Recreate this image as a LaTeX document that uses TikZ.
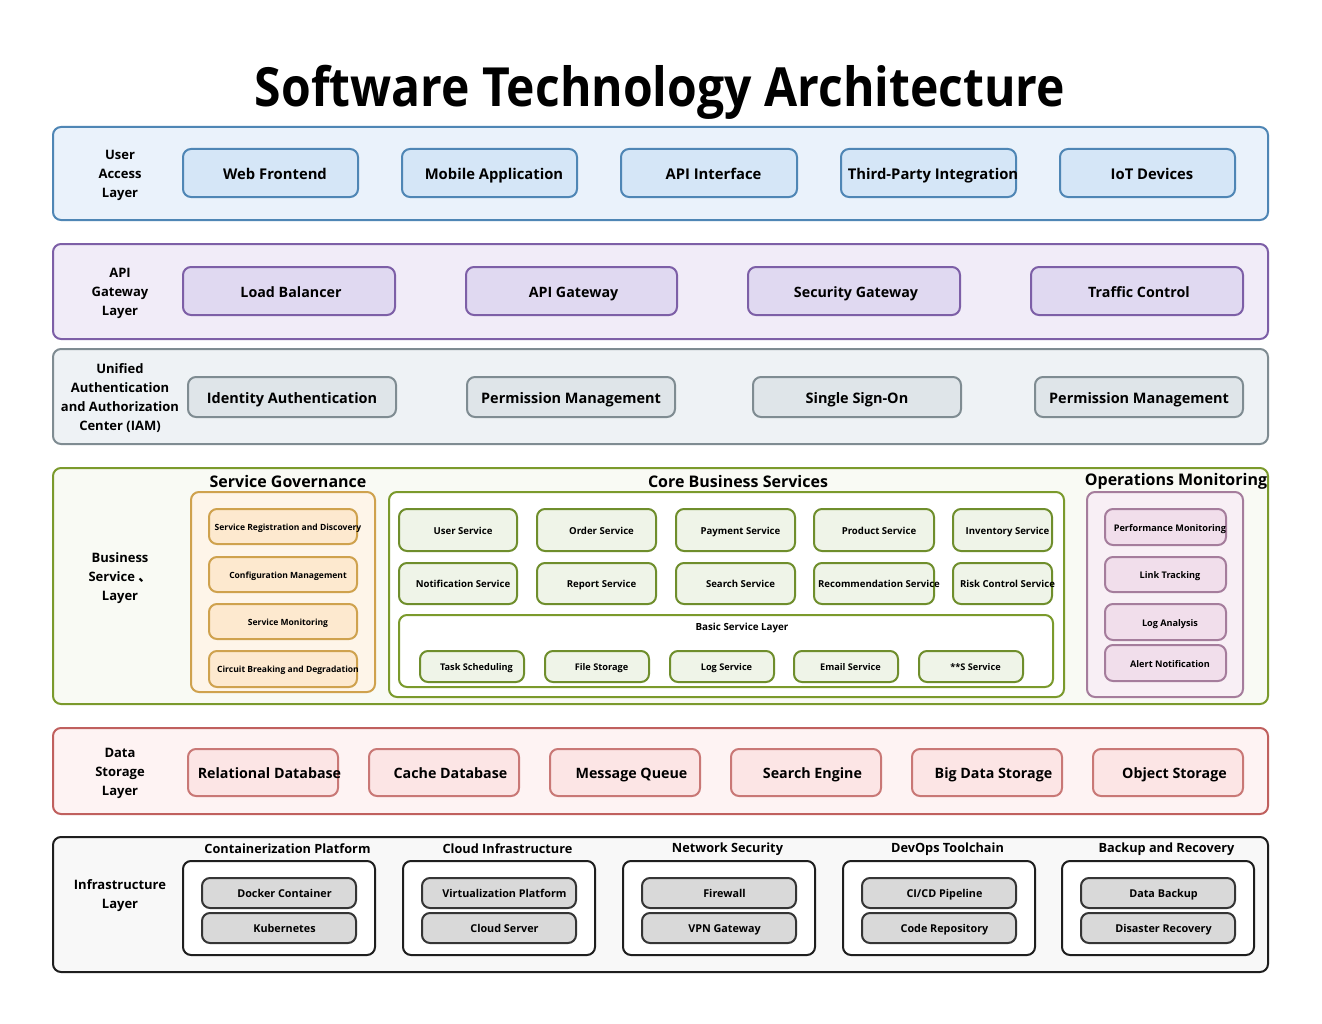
\documentclass[tikz,border=0pt]{standalone}
\usepackage{fontspec}
\setmainfont{Open Sans}
\newfontfamily\titlefont{Open Sans}[FakeStretch=0.89]
\newfontfamily\cjkfont{Noto Sans CJK SC}
\definecolor{uaS}{HTML}{4F86B5}\definecolor{uaF}{HTML}{EAF2FB}\definecolor{uaB}{HTML}{D5E6F7}
\definecolor{apS}{HTML}{7D5FA7}\definecolor{apF}{HTML}{F1ECF8}\definecolor{apB}{HTML}{E0D9F1}
\definecolor{iaS}{HTML}{7F8C92}\definecolor{iaF}{HTML}{EEF2F5}\definecolor{iaB}{HTML}{DFE5E9}
\definecolor{bsS}{HTML}{7B9A2C}\definecolor{bsF}{HTML}{F9FAF4}
\definecolor{gvS}{HTML}{CFA24E}\definecolor{gvF}{HTML}{FEF5E9}\definecolor{gvB}{HTML}{FDE9CF}
\definecolor{coS}{HTML}{6F8E2C}\definecolor{coB}{HTML}{EFF4E8}
\definecolor{opS}{HTML}{A57D9C}\definecolor{opF}{HTML}{F8EFF5}\definecolor{opB}{HTML}{F1DEEB}
\definecolor{dsS}{HTML}{C0605E}\definecolor{dsF}{HTML}{FEF3F3}\definecolor{dsB}{HTML}{FCE5E5}
\definecolor{inS}{HTML}{1E1E1E}\definecolor{inF}{HTML}{F8F8F8}\definecolor{inB}{HTML}{D9D9D9}
% \bx[text shift px]{style}{name}{x1}{y1}{x2}{y2}{text}
\newcommand\bx[8][0]{%
  \pgfmathsetmacro\bxw{(#6-#4)*0.75}\pgfmathsetmacro\bxh{(#7-#5)*0.75}\pgfmathsetmacro\bxs{#1*1.5}%
  \node[#2, minimum width=\bxw pt, minimum height=\bxh pt] (#3) at ({(#4+#6)/2},{(#5+#7)/2})
    {\makebox[0pt]{\hspace*{\bxs pt}\raisebox{-0.45em}[0pt][0pt]{#8}}};}
\tikzset{
  base/.style={rounded corners=6pt, line width=1.5pt, inner sep=0pt, align=center},
  ualayer/.style={base, draw=uaS, fill=uaF},
  uabox/.style={base, draw=uaS, fill=uaB, font=\fontsize{11.1}{13}\selectfont\bfseries},
  aplayer/.style={base, draw=apS, fill=apF},
  apbox/.style={base, draw=apS, fill=apB, font=\fontsize{10.7}{13}\selectfont\bfseries},
  ialayer/.style={base, draw=iaS, fill=iaF},
  iabox/.style={base, draw=iaS, fill=iaB, font=\fontsize{10.85}{13}\selectfont\bfseries},
  bslayer/.style={base, draw=bsS, fill=bsF},
  gvgroup/.style={base, draw=gvS, fill=gvF},
  gvbox/.style={base, draw=gvS, fill=gvB, font=\fontsize{6.4}{8}\selectfont\bfseries},
  cogroup/.style={base, draw=bsS, fill=white},
  cobox/.style={base, draw=coS, fill=coB, font=\fontsize{7.2}{9}\selectfont\bfseries},
  bsbox/.style={base, draw=coS, fill=coB, font=\fontsize{6.9}{8}\selectfont\bfseries},
  opgroup/.style={base, draw=opS, fill=opF},
  opbox/.style={base, draw=opS, fill=opB, font=\fontsize{6.85}{8}\selectfont\bfseries},
  dslayer/.style={base, draw=dsS, fill=dsF},
  dsbox/.style={base, draw=dsS!85!white, fill=dsB, font=\fontsize{10.7}{13}\selectfont\bfseries},
  inlayer/.style={base, draw=inS, fill=inF},
  ingroup/.style={base, draw=inS, fill=white},
  inbox/.style={base, draw=inS!90!white, fill=inB, font=\fontsize{8.1}{10}\selectfont\bfseries},
  lbl/.style={align=center, inner sep=0pt, font=\fontsize{9.75}{14.25}\selectfont\bfseries},
  sectitle/.style={inner sep=0pt, font=\fontsize{12}{14}\selectfont\bfseries},
  intitle/.style={inner sep=0pt, font=\fontsize{9.55}{12}\selectfont\bfseries},
  bstitle/.style={inner sep=0pt, font=\fontsize{7.35}{9}\selectfont\bfseries},
}
\begin{document}
\begin{tikzpicture}[x=0.75pt, y=-0.75pt]
\fill[white] (0,0) rectangle (1322,1024);
\useasboundingbox (0,0) rectangle (1322,1024);
% title
\node[inner sep=0pt, anchor=base, font=\titlefont\fontsize{40.5}{46}\selectfont\bfseries] (title) at (660,107) {Software Technology Architecture};
% User access layer
\bx{ualayer}{ua}{53}{127}{1268}{220}{}
\node[lbl] (ualbl) at (120,175) {User\\Access\\Layer};
\bx[4.5]{uabox}{ua1}{183}{149}{358}{197}{Web Frontend}
\bx[4.5]{uabox}{ua2}{402}{149}{577}{197}{Mobile Application}
\bx[4.5]{uabox}{ua3}{621}{149}{797}{197}{API Interface}
\bx[4.5]{uabox}{ua4}{841}{149}{1016}{197}{Third-Party Integration}
\bx[4.5]{uabox}{ua5}{1060}{149}{1235}{197}{IoT Devices}
% API gateway layer
\bx{aplayer}{ap}{53}{244}{1268}{339}{}
\node[lbl] (aplbl) at (120,293) {API\\Gateway\\Layer};
\bx[2]{apbox}{ap1}{183}{267}{395}{315}{Load Balancer}
\bx[2]{apbox}{ap2}{466}{267}{677}{315}{API Gateway}
\bx[2]{apbox}{ap3}{748}{267}{960}{315}{Security Gateway}
\bx[2]{apbox}{ap4}{1031}{267}{1243}{315}{Traffic Control}
% IAM
\bx{ialayer}{ia}{53}{349}{1268}{444}{}
\node[lbl] (ialbl) at (120,398) {Unified\\Authentication\\and Authorization\\Center (IAM)};
\bx{iabox}{ia1}{188}{377}{396}{417}{Identity Authentication}
\bx{iabox}{ia2}{467}{377}{675}{417}{Permission Management}
\bx{iabox}{ia3}{753}{377}{961}{417}{Single Sign-On}
\bx{iabox}{ia4}{1035}{377}{1243}{417}{Permission Management}
% Business service layer
\bx{bslayer}{bs}{53}{468}{1268}{704}{}
\node[lbl] (bslbl) at (120,578) {Business\\Service {\cjkfont 、}\\Layer};
\node[sectitle] (gvt) at (288,481) {Service Governance};
\bx{gvgroup}{gv}{191}{492}{375}{692}{}
\bx[5]{gvbox}{gv1}{209}{509}{357}{544}{Service Registration and Discovery}
\bx[5]{gvbox}{gv2}{209}{557}{357}{592}{Configuration Management}
\bx[5]{gvbox}{gv3}{209}{604}{357}{639}{Service Monitoring}
\bx[5]{gvbox}{gv4}{209}{651}{357}{687}{Circuit Breaking and Degradation}
\node[sectitle] (cot) at (738,481) {Core Business Services};
\bx{cogroup}{co}{389}{492}{1064}{697}{}
\bx[5]{cobox}{co1}{399}{509}{517}{551}{User Service}
\bx[5]{cobox}{co2}{537}{509}{656}{551}{Order Service}
\bx[5]{cobox}{co3}{676}{509}{795}{551}{Payment Service}
\bx[5]{cobox}{co4}{814}{509}{934}{551}{Product Service}
\bx[5]{cobox}{co5}{953}{509}{1052}{551}{Inventory Service}
\bx[5]{cobox}{co6}{399}{563}{517}{604}{Notification Service}
\bx[5]{cobox}{co7}{537}{563}{656}{604}{Report Service}
\bx[5]{cobox}{co8}{676}{563}{795}{604}{Search Service}
\bx[5]{cobox}{co9}{814}{563}{934}{604}{Recommendation Service}
\bx[5]{cobox}{co10}{953}{563}{1052}{604}{Risk Control Service}
\bx{cogroup}{bsl}{399}{615}{1053}{687}{}
\node[bstitle] (bslt) at (742,628) {Basic Service Layer};
\bx[4.5]{bsbox}{bs1}{420}{651}{524}{682}{Task Scheduling}
\bx[4.5]{bsbox}{bs2}{545}{651}{649}{682}{File Storage}
\bx[4.5]{bsbox}{bs3}{670}{651}{774}{682}{Log Service}
\bx[4.5]{bsbox}{bs4}{794}{651}{898}{682}{Email Service}
\bx[4.5]{bsbox}{bs5}{919}{651}{1023}{682}{**S Service}
\node[sectitle] (opt) at (1176,481) {Operations Monitoring};
\bx{opgroup}{op}{1087}{492}{1243}{697}{}
\bx[4.5]{opbox}{op1}{1105}{509}{1226}{545}{Performance Monitoring}
\bx[4.5]{opbox}{op2}{1105}{557}{1226}{592}{Link Tracking}
\bx[4.5]{opbox}{op3}{1105}{604}{1226}{640}{Log Analysis}
\bx[4.5]{opbox}{op4}{1105}{645}{1226}{681}{Alert Notification}
% Data storage layer
\bx{dslayer}{ds}{53}{728}{1268}{814}{}
\node[lbl] (dslbl) at (120,773) {Data\\Storage\\Layer};
\bx[6.5]{dsbox}{ds1}{188}{749}{338}{796}{Relational Database}
\bx[6.5]{dsbox}{ds2}{369}{749}{519}{796}{Cache Database}
\bx[6.5]{dsbox}{ds3}{550}{749}{700}{796}{Message Queue}
\bx[6.5]{dsbox}{ds4}{731}{749}{881}{796}{Search Engine}
\bx[6.5]{dsbox}{ds5}{912}{749}{1062}{796}{Big Data Storage}
\bx[6.5]{dsbox}{ds6}{1093}{749}{1243}{796}{Object Storage}
% Infrastructure layer
\bx{inlayer}{inf}{53}{837}{1268}{972}{}
\node[lbl] (inlbl) at (120,896) {Infrastructure\\Layer};
\foreach \i/\xx/\t/\a/\b in {1/183/Containerization Platform/Docker Container/Kubernetes,
  2/403/Cloud Infrastructure/Virtualization Platform/Cloud Server,
  3/623/Network Security/Firewall/VPN Gateway,
  4/843/DevOps Toolchain/CI\slash CD Pipeline/Code Repository,
  5/1062/Backup and Recovery/Data Backup/Disaster Recovery}{
  \pgfmathsetmacro\xe{\xx+192}\pgfmathsetmacro\xa{\xx+19}\pgfmathsetmacro\xb{\xx+173}
  \node[intitle] (ing\i t) at ({\xx+104.5},849) {\t};
  \bx{ingroup}{ing\i}{\xx}{861}{\xe}{955}{}
  \bx[5.5]{inbox}{ing\i a}{\xa}{878}{\xb}{908}{\a}
  \bx[5.5]{inbox}{ing\i b}{\xa}{913}{\xb}{943}{\b}
}
\end{tikzpicture}
\end{document}
